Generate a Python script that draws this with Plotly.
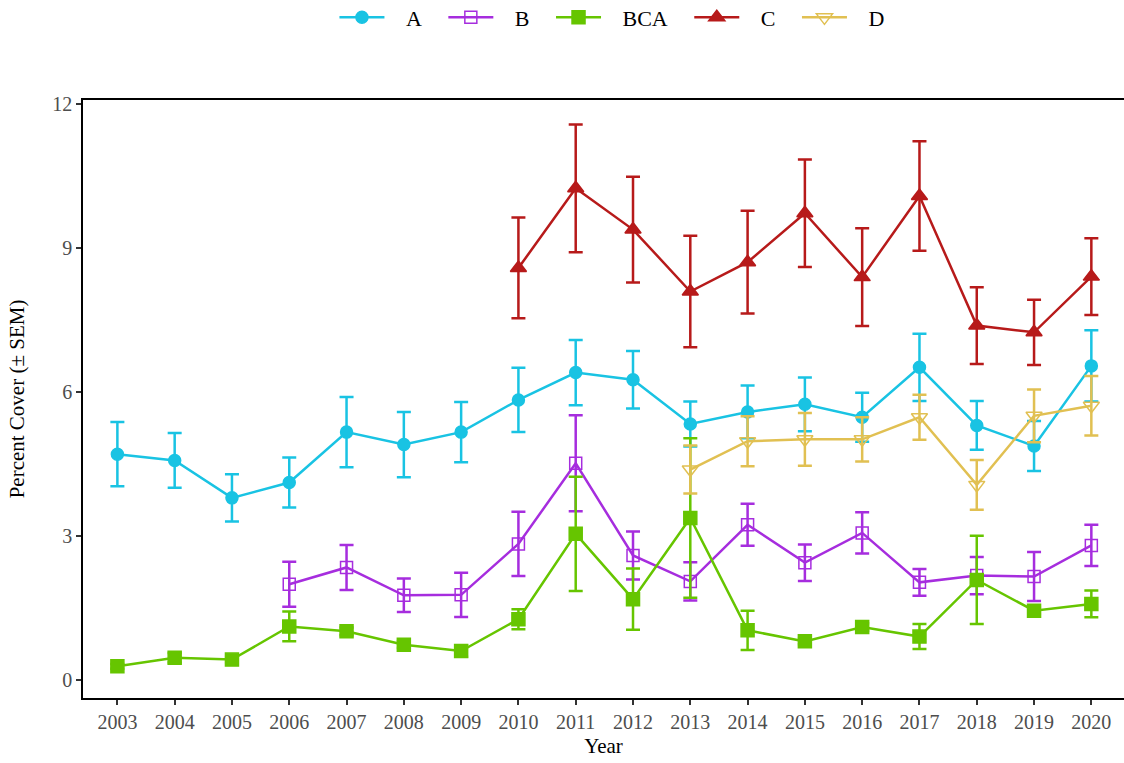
import plotly.graph_objects as go

years = list(range(2003, 2021))

# mean percent cover and SEM per group (None = not sampled)
a_mean = [4.70, 4.57, 3.79, 4.11, 5.16, 4.90, 5.16, 5.83, 6.40, 6.25, 5.33, 5.58, 5.74, 5.47, 6.51, 5.30, 4.87, 6.54]
a_sem = [0.67, 0.57, 0.49, 0.52, 0.73, 0.68, 0.63, 0.67, 0.68, 0.60, 0.47, 0.55, 0.56, 0.51, 0.70, 0.51, 0.52, 0.74]

b_mean = [None, None, None, 1.99, 2.34, 1.76, 1.77, 2.83, 4.51, 2.59, 2.05, 3.23, 2.44, 3.06, 2.03, 2.17, 2.15, 2.80]
b_sem = [None, None, None, 0.47, 0.47, 0.35, 0.46, 0.67, 1.00, 0.50, 0.40, 0.44, 0.38, 0.43, 0.28, 0.39, 0.51, 0.43]

bca_mean = [0.28, 0.46, 0.42, 1.11, 1.01, 0.73, 0.60, 1.26, 3.04, 1.68, 3.37, 1.03, 0.80, 1.10, 0.90, 2.08, 1.44, 1.58]
bca_sem = [0.05, 0.10, 0.06, 0.31, 0.08, 0.07, 0.12, 0.21, 1.19, 0.64, 1.66, 0.41, 0.06, 0.08, 0.26, 0.92, 0.07, 0.28]

c_mean = [None] * 7 + [8.58, 10.24, 9.38, 8.09, 8.70, 9.72, 8.39, 10.08, 7.38, 7.24, 8.40]
c_sem = [None] * 7 + [1.05, 1.33, 1.10, 1.16, 1.07, 1.12, 1.02, 1.14, 0.80, 0.68, 0.80]

d_mean = [None] * 10 + [4.38, 4.97, 5.01, 5.01, 5.47, 4.06, 5.50, 5.71]
d_sem = [None] * 10 + [0.50, 0.52, 0.55, 0.46, 0.47, 0.52, 0.55, 0.62]

y_ticks = [0, 3, 6, 9, 12]

groups = [
    ("A", a_mean, a_sem, "#19C3E3", "circle", 12),
    ("B", b_mean, b_sem, "#A62DDE", "square-open", 12),
    ("BCA", bca_mean, bca_sem, "#66C500", "square", 13),
    ("C", c_mean, c_sem, "#B71A1A", "triangle-up", 14),
    ("D", d_mean, d_sem, "#E1C052", "triangle-down-open", 14),
]

# spacing around legend labels like the original
lead = "\u00a0" * 3
trail = "\u00a0" * 3

fig = go.Figure()

for name, mean, sem, color, symbol, size in groups:
    fig.add_trace(go.Scatter(
        x=years,
        y=mean,
        name=lead + name + trail,
        mode="lines+markers",
        line=dict(color=color, width=2.5),
        marker=dict(color=color, symbol=symbol, size=size, line=dict(color=color, width=1.5)),
        error_y=dict(type="data", array=sem, visible=True, color=color, thickness=2.5, width=7),
    ))

fig.update_layout(
    width=1124,
    height=763,
    plot_bgcolor="white",
    paper_bgcolor="white",
    font=dict(family="Liberation Serif", size=20, color="black"),
    margin=dict(l=83, r=0, t=100, b=65),
    showlegend=True,
    legend=dict(
        orientation="h",
        xref="container", yref="container",
        x=0.552, xanchor="center",
        y=0.977, yanchor="middle",
        itemwidth=45,
        font=dict(size=22, color="black"),
    ),
    xaxis=dict(
        title=dict(text="Year", font=dict(size=21), standoff=7),
        range=[2002.4, 2020.57],
        tickmode="array",
        tickvals=years,
        ticks="outside", ticklen=5, tickwidth=1.5, tickcolor="#333333",
        tickfont=dict(size=20, color="#4D4D4D"),
        showline=True, linecolor="black", linewidth=1.5, mirror=True,
        showgrid=False, zeroline=False, automargin=False,
    ),
    yaxis=dict(
        title=dict(text="Percent Cover (± SEM)", font=dict(size=21), standoff=22),
        range=[-0.38, 12.08],
        tickmode="array",
        tickvals=y_ticks,
        ticks="outside", ticklen=5, tickwidth=1.5, tickcolor="#333333",
        tickfont=dict(size=20, color="#4D4D4D"),
        showline=True, linecolor="black", linewidth=1.5,
        showgrid=False, zeroline=False, automargin=False,
    ),
)

# drop the default page margin so the figure sits at the window's corner
fig.write_html(
    "out.html",
    config={"displayModeBar": False},
    post_script="document.body.style.margin='0';document.body.style.overflow='hidden';",
)
